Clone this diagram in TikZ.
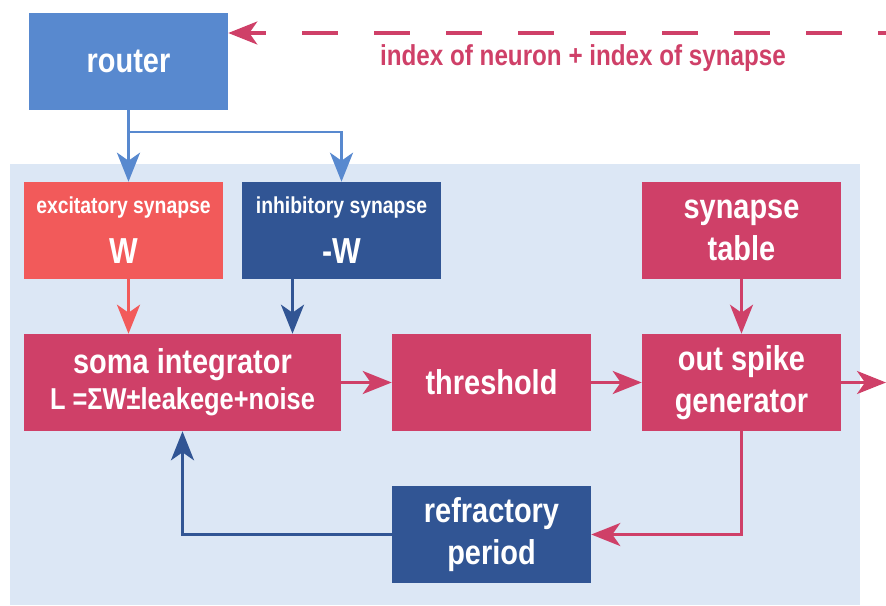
\documentclass[tikz,border=0pt]{standalone}
\usepackage{fontspec}
\setmainfont{Liberation Sans}[FakeStretch=0.84]
\usetikzlibrary{arrows.meta}
\definecolor{routerblue}{HTML}{5889CF}
\definecolor{panelblue}{HTML}{DCE7F5}
\definecolor{coral}{HTML}{F25A5A}
\definecolor{darkblue}{HTML}{315594}
\definecolor{crimson}{HTML}{CF4068}

\begin{document}
\begin{tikzpicture}[
    x=0.025cm, y=-0.025cm,
    box_node/.style={rectangle, inner sep=0pt, minimum width=4.975cm, minimum height=2.425cm, text=white, align=center, font=\bfseries\fontsize{24.5pt}{29.5pt}\selectfont},
    wide_node/.style={box_node, minimum width=7.925cm},
    syn_node/.style={box_node, font=\bfseries\fontsize{25.7pt}{35.5pt}\selectfont},
    directed/.style={-{Stealth[length=0.725cm, width=0.575cm, inset=0.2cm]}, line width=2pt},
    dashed_edge/.style={directed, line width=2.4pt, dash pattern=on 0.9cm off 0.9cm, dash phase=0.7cm}
]
    \useasboundingbox (0,0) rectangle (886,605);
    \fill[panelblue] (10,164) rectangle (860,605);

    \node[box_node, fill=routerblue] (R) at (128.5,61.5) {router};
    \node[syn_node, fill=coral] (EX) at (123.5,230.5) {{\fontsize{16.4pt}{20pt}\selectfont excitatory synapse}\\W};
    \node[syn_node, fill=darkblue] (IN) at (341.5,230.5) {{\fontsize{16.4pt}{20pt}\selectfont inhibitory synapse}\\-W};
    \node[box_node, fill=crimson] (ST) at (741.5,230.5) {synapse\\table};
    \node[wide_node, fill=crimson, font=\bfseries\fontsize{24.5pt}{25.5pt}\selectfont] (SI) at (182.5,382.5) {soma integrator\\{\fontsize{21.5pt}{25.5pt}\selectfont L =ΣW±leakege+noise}};
    \node[box_node, fill=crimson] (TH) at (491.5,382.5) {threshold};
    \node[box_node, fill=crimson] (OS) at (741.5,382.5) {out spike\\generator};
    \node[box_node, fill=darkblue] (RP) at (491.5,534.5) {refractory\\period};
    \node[anchor=base, text=crimson, font=\bfseries\fontsize{20.5pt}{24pt}\selectfont] (lbl) at (583,65) {index of neuron + index of synapse};

    \coordinate (in) at (886,33);
    \coordinate (J) at (128.5,132);
    \coordinate (INout) at ([xshift=-1.225cm]IN.south);
    \coordinate (out) at (886,382.5);

    \draw [dashed_edge, crimson] (in) -- (in -| R.east);
    \draw [directed, routerblue] (R.south) -- (R.south |- EX.north);
    \draw [directed, routerblue] (J) -| (IN.north);
    \draw [directed, coral] (EX.south -| R.south) -- (SI.north -| R.south);
    \draw [directed, darkblue] (INout) -- (INout |- SI.north);
    \draw [directed, crimson] (SI) -- (TH);
    \draw [directed, crimson] (TH) -- (OS);
    \draw [directed, crimson] (OS) -- (out);
    \draw [directed, crimson] (ST) -- (OS);
    \draw [directed, crimson] (OS.south) |- (RP.east);
    \draw [directed, darkblue] (RP.west) -| (SI.south);
\end{tikzpicture}
\end{document}
